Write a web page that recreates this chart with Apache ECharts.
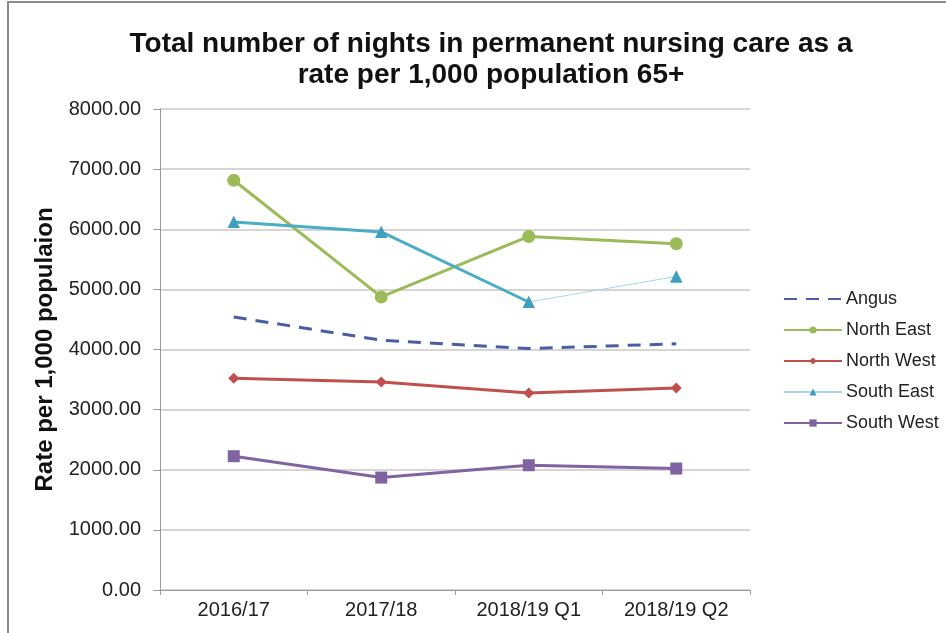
<!DOCTYPE html>
<html>
<head>
<meta charset="utf-8">
<script src="https://cdn.jsdelivr.net/npm/echarts@6/dist/echarts.min.js"></script>
<style>
  html, body { margin: 0; padding: 0; background: #fff; }
  #chart { width: 946px; height: 633px; }
</style>
</head>
<body>
<div id="chart"></div>
<script>
// Reporting periods on the x axis
const periods = ['2016/17', '2017/18', '2018/19 Q1', '2018/19 Q2'];

// Nights in permanent nursing care per 1,000 population aged 65+
const angus     = [4540, 4155, 4015, 4095];
const northEast = [6815, 4875, 5880, 5760];
const northWest = [3520, 3460, 3275, 3360];
const southEast = [6120, 5955, 4790, 5215];
const southWest = [2225, 1870, 2075, 2020];

// Y axis scale
const yMin = 0, yMax = 8000, yStep = 1000;

const font = 'Liberation Sans';
const gridColor = '#c8c8c8';
const axisColor = '#9a9a9a';

// The South East line is drawn heavy up to Q1, then light for the latest quarter
const southEastHeavy = southEast.map((v, i) => (i <= 2 ? v : null));

const chart = echarts.init(document.getElementById('chart'));
chart.setOption({
  backgroundColor: '#fff',
  animation: false,
  title: {
    text: 'Total number of nights in permanent nursing care as a\nrate per 1,000 population 65+',
    left: 486,
    top: 24,
    textAlign: 'center',
    textStyle: {
      fontFamily: font,
      fontWeight: 'bold',
      fontSize: 28,
      lineHeight: 31,
      color: '#111'
    }
  },
  graphic: [{
    type: 'rect',
    shape: { x: 8, y: 2, width: 960, height: 660 },
    style: { fill: 'none', stroke: '#8a8a8a', lineWidth: 2 },
    silent: true
  }],
  legend: {
    orient: 'vertical',
    left: 778,
    top: 285,
    itemWidth: 58,
    itemHeight: 9,
    itemGap: 13,
    data: [
      { name: 'Angus', itemStyle: { opacity: 0 } },
      'North East',
      'North West',
      'South East',
      'South West'
    ],
    textStyle: { fontFamily: font, fontSize: 18, color: '#222', padding: [0, 0, 0, -1] }
  },
  grid: { left: 160, right: 196, top: 109, bottom: 43 },
  xAxis: {
    type: 'category',
    data: periods,
    boundaryGap: true,
    axisLine: { lineStyle: { color: axisColor, width: 1 } },
    axisTick: { show: true, length: 5, lineStyle: { color: axisColor } },
    axisLabel: { fontFamily: font, fontSize: 20, color: '#222', margin: 10 }
  },
  yAxis: {
    type: 'value',
    min: yMin,
    max: yMax,
    interval: yStep,
    name: 'Rate per 1,000 populaion',
    nameLocation: 'middle',
    nameRotate: 90,
    nameGap: 103,
    nameTextStyle: { fontFamily: font, fontWeight: 'bold', fontSize: 24, color: '#111' },
    axisLine: { show: true, lineStyle: { color: axisColor } },
    axisTick: { show: true, length: 7, lineStyle: { color: axisColor } },
    splitLine: { lineStyle: { color: gridColor, width: 1.5 } },
    axisLabel: {
      fontFamily: font,
      fontSize: 20,
      color: '#222',
      margin: 19,
      formatter: v => v.toFixed(2)
    }
  },
  series: [
    {
      name: 'Angus',
      type: 'line',
      data: angus,
      symbol: 'none',
      lineStyle: { color: '#4a5fa3', width: 3, type: [13, 9] },
      itemStyle: { color: '#4a5fa3' }
    },
    {
      name: 'North East',
      type: 'line',
      data: northEast,
      symbol: 'circle',
      symbolSize: 13,
      lineStyle: { color: '#9bbb59', width: 3 },
      itemStyle: { color: '#9bbb59' }
    },
    {
      name: 'North West',
      type: 'line',
      data: northWest,
      symbol: 'diamond',
      symbolSize: 11,
      lineStyle: { color: '#c0504d', width: 3 },
      itemStyle: { color: '#c0504d' }
    },
    {
      name: 'South East',
      type: 'line',
      data: southEast,
      symbol: 'triangle',
      symbolSize: 12,
      lineStyle: { color: '#a5d8e6', width: 1 },
      itemStyle: { color: '#3f9fbf' },
      z: 2
    },
    {
      name: 'South East (to Q1)',
      type: 'line',
      data: southEastHeavy,
      symbol: 'none',
      lineStyle: { color: '#4bacc6', width: 3 },
      itemStyle: { color: '#4bacc6' },
      z: 3
    },
    {
      name: 'South East markers',
      type: 'line',
      data: southEast,
      symbol: 'triangle',
      symbolSize: 12,
      lineStyle: { width: 0, opacity: 0 },
      itemStyle: { color: '#3f9fbf' },
      z: 4
    },
    {
      name: 'South West',
      type: 'line',
      data: southWest,
      symbol: 'rect',
      symbolSize: 12,
      lineStyle: { color: '#8064a2', width: 3 },
      itemStyle: { color: '#8064a2' }
    }
  ]
});
</script>
</body>
</html>
